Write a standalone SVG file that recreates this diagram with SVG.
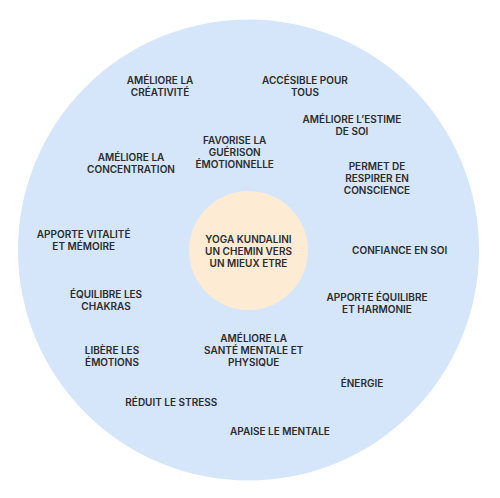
<svg xmlns="http://www.w3.org/2000/svg" width="500" height="498" viewBox="0 0 500 498">
<style>
text{font-family:Inter,"Noto Sans","Liberation Sans",sans-serif;font-size:10px;font-weight:600;fill:#2b2b2b;text-anchor:middle}
</style>
<rect width="500" height="498" fill="#ffffff"/>
<g id="outer"><circle cx="248.5" cy="250" r="230.5" fill="#d5e6fb"/></g>
<g id="center"><circle cx="248.5" cy="250.5" r="59.5" fill="#fdebd4"/>
<text x="248.5" y="242.5">YOGA KUNDALINI</text><text x="248.5" y="254.5">UN CHEMIN VERS</text><text x="248.5" y="266.5">UN MIEUX ETRE</text></g>
<g id="connectors"></g>
<g id="n1"><text x="160" y="84">AMÉLIORE LA</text><text x="160" y="96">CRÉATIVITÉ</text></g>
<g id="n2"><text x="305" y="84">ACCÉSIBLE POUR</text><text x="305" y="96">TOUS</text></g>
<g id="n3"><text x="352" y="122.5">AMÉLIORE L’ESTIME</text><text x="352" y="134.5">DE SOI</text></g>
<g id="n4"><text x="234.7" y="144">FAVORISE LA</text><text x="234.7" y="156">GUÉRISON</text><text x="234.7" y="168">ÉMOTIONNELLE</text></g>
<g id="n5"><text x="131" y="161">AMÉLIORE LA</text><text x="131" y="173">CONCENTRATION</text></g>
<g id="n6"><text x="377" y="170">PERMET DE</text><text x="377" y="182">RESPIRER EN</text><text x="377" y="194">CONSCIENCE</text></g>
<g id="n7"><text x="83.7" y="238">APPORTE VITALITÉ</text><text x="83.7" y="250">ET MÉMOIRE</text></g>
<g id="n8"><text x="399.7" y="254">CONFIANCE EN SOI</text></g>
<g id="n9"><text x="106" y="298">ÉQUILIBRE LES</text><text x="106" y="310">CHAKRAS</text></g>
<g id="n10"><text x="377" y="300.5">APPORTE ÉQUILIBRE</text><text x="377" y="312.5">ET HARMONIE</text></g>
<g id="n11"><text x="253.7" y="342">AMÉLIORE LA</text><text x="253.7" y="354">SANTÉ MENTALE ET</text><text x="253.7" y="366">PHYSIQUE</text></g>
<g id="n12"><text x="112" y="354">LIBÈRE LES</text><text x="112" y="366">ÉMOTIONS</text></g>
<g id="n13"><text x="362" y="387">ÉNERGIE</text></g>
<g id="n14"><text x="171.3" y="406">RÉDUIT LE STRESS</text></g>
<g id="n15"><text x="280" y="434.5">APAISE LE MENTALE</text></g>
</svg>
